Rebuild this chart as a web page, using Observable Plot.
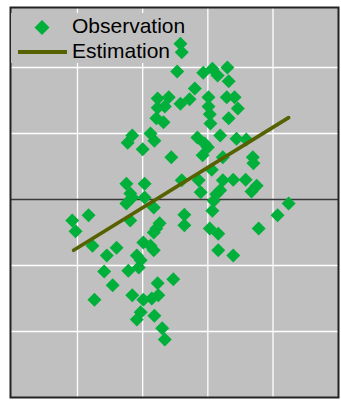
<!DOCTYPE html>
<html>
<head>
<meta charset="utf-8">
<script src="https://cdn.jsdelivr.net/npm/d3@7"></script>
<script src="https://cdn.jsdelivr.net/npm/@observablehq/plot@0.6"></script>
<style>
  html, body { margin: 0; padding: 0; background: #ffffff; }
  #wrap { position: relative; width: 341px; height: 404px; }
  #legend { position: absolute; left: 0; top: 0; pointer-events: none; }
  #legend text { font-family: "Liberation Sans", Arial, sans-serif; font-size: 21px; fill: #000; }
</style>
</head>
<body>
<div id="wrap"></div>
<script>
// Observation points (x, y)
const obsX = [2.58,2.60,2.53,2.93,3.07,3.15,3.30,3.32,2.80,2.72,2.58,3.01,3.01,3.03,3.04,3.29,3.41,3.46,3.32,2.23,
  2.40,2.23,2.34,2.21,2.32,1.84,1.77,2.12,2.18,2.00,2.44,2.84,2.95,3.00,2.92,3.19,3.44,3.59,3.69,3.70,
  3.23,3.06,1.75,2.03,1.81,1.84,1.75,2.03,2.17,2.60,2.86,2.89,3.23,3.39,3.58,3.19,3.13,3.09,3.75,3.67,
  4.24,4.07,3.78,3.07,3.03,3.16,3.16,3.39,0.92,0.97,1.17,1.81,2.64,2.64,2.26,2.21,2.17,1.23,1.45,1.60,
  2.01,2.12,2.17,1.91,1.97,1.78,1.94,1.41,1.54,1.26,1.84,2.01,2.14,2.23,2.24,2.47,1.97,1.91,2.18,2.30,2.34];
const obsY = [2.36,2.23,1.94,1.92,1.98,1.88,2.00,1.79,1.68,1.52,1.45,1.55,1.41,1.29,1.15,1.55,1.55,1.38,1.23,1.53,
  1.55,1.39,1.41,1.23,1.17,0.97,0.86,1.00,0.89,0.76,0.64,0.94,0.85,0.79,0.67,0.97,0.92,0.91,0.64,0.55,
  0.64,0.45,0.24,0.24,0.09,0.03,-0.06,0.03,-0.12,0.29,0.29,0.11,0.29,0.30,0.30,0.14,0.08,-0.02,0.21,0.12,
  -0.06,-0.24,-0.44,-0.17,-0.44,-0.52,-0.77,-0.85,-0.32,-0.48,-0.24,-0.32,-0.23,-0.39,-0.36,-0.44,-0.50,-0.70,-0.85,-0.73,
  -0.65,-0.70,-0.77,-0.85,-0.92,-1.08,-1.03,-1.09,-1.30,-1.52,-1.45,-1.52,-1.50,-1.27,-1.45,-1.21,-1.71,-1.82,-1.76,-1.95,-2.12];
// Estimation line end points
const estX = [0.94, 4.24];
const estY = [-0.77, 1.24];
// Grid ticks
const xTicks = [1, 2, 3, 4];
const yTicks = [-2, -1, 1, 2];
const seriesNames = ["Observation", "Estimation"];

const GREEN = "#00b03a";
const OLIVE = "#566100";

const obs = obsX.map((x, i) => ({x, y: obsY[i]}));
const est = estX.map((x, i) => ({x, y: estY[i]}));

const chart = Plot.plot({
  width: 341,
  height: 404,
  marginLeft: 10,
  marginRight: 3,
  marginTop: 7,
  marginBottom: 7,
  x: {domain: [-0.028, 5.005], axis: null},
  y: {domain: [-3, 2.909], axis: null},
  style: {background: "#ffffff", overflow: "visible"},
  marks: [
    Plot.frame({fill: "#c0c0c0"}),
    Plot.ruleX(xTicks, {stroke: "#ffffff", strokeWidth: 1.3}),
    Plot.ruleY(yTicks, {stroke: "#ffffff", strokeWidth: 1.3}),
    Plot.ruleY([0], {stroke: "#3a3a3a", strokeWidth: 1.4}),
    Plot.dot(obs, {x: "x", y: "y", symbol: "diamond2", r: 6.3, fill: GREEN, stroke: "none"}),
    Plot.line(est, {x: "x", y: "y", stroke: OLIVE, strokeWidth: 3.6}),
    Plot.frame({stroke: "#222222", strokeWidth: 2})
  ]
});

const wrap = document.getElementById("wrap");
wrap.appendChild(chart);

// Legend overlay
const ns = "http://www.w3.org/2000/svg";
const leg = document.createElementNS(ns, "svg");
leg.setAttribute("id", "legend");
leg.setAttribute("width", "341");
leg.setAttribute("height", "404");
leg.innerHTML = `
  <rect x="11" y="13" width="161" height="50" fill="#c0c0c0"></rect>
  <path d="M42,20 L49.5,27.5 L42,35 L34.5,27.5 Z" fill="${GREEN}"></path>
  <line x1="18" y1="52" x2="67" y2="52" stroke="${OLIVE}" stroke-width="4"></line>
  <text x="72" y="32.5">${seriesNames[0]}</text>
  <text x="72" y="58">${seriesNames[1]}</text>
`;
wrap.appendChild(leg);
</script>
</body>
</html>
